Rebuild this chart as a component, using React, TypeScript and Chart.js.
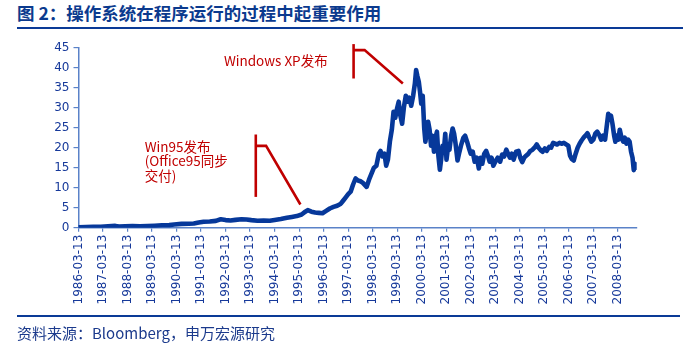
import React, { useEffect, useRef } from "react";
import { Chart, registerables } from "chart.js";

Chart.register(...registerables);

// ---- data ----
const titleText = "图 2：操作系统在程序运行的过程中起重要作用";
const sourceText = "资料来源：Bloomberg，申万宏源研究";

const tickLabels = [
  "1986-03-13", "1987-03-13", "1988-03-13", "1989-03-13", "1990-03-13", "1991-03-13",
  "1992-03-13", "1993-03-13", "1994-03-13", "1995-03-13", "1996-03-13", "1997-03-13",
  "1998-03-13", "1999-03-13", "2000-03-13", "2001-03-13", "2002-03-13", "2003-03-13",
  "2004-03-13", "2005-03-13", "2006-03-13", "2007-03-13", "2008-03-13",
];

// dates as fractional years
const dates = [
  1986.20, 1986.50, 1986.80, 1987.10, 1987.40, 1987.70, 1987.85, 1988.10, 1988.40, 1988.70,
  1989.00, 1989.30, 1989.60, 1989.90, 1990.10, 1990.40, 1990.70, 1990.90, 1991.10, 1991.30,
  1991.55, 1991.80, 1992.00, 1992.20, 1992.40, 1992.60, 1992.85, 1993.05, 1993.25, 1993.50,
  1993.75, 1994.00, 1994.20, 1994.45, 1994.70, 1994.90, 1995.10, 1995.30, 1995.45, 1995.55,
  1995.70, 1995.85, 1996.00, 1996.15, 1996.30, 1996.45, 1996.60, 1996.75, 1996.90, 1997.00,
  1997.10, 1997.20, 1997.30, 1997.40, 1997.50, 1997.60, 1997.70, 1997.80, 1997.95, 1998.05,
  1998.15, 1998.25, 1998.35, 1998.45, 1998.52, 1998.60, 1998.68, 1998.75, 1998.82, 1998.90,
  1998.98, 1999.05, 1999.12, 1999.20, 1999.26, 1999.33, 1999.40, 1999.47, 1999.55, 1999.62,
  1999.70, 1999.77, 1999.85, 1999.92, 1999.97, 2000.02, 2000.08, 2000.13, 2000.18, 2000.24,
  2000.30, 2000.35, 2000.40, 2000.46, 2000.52, 2000.58, 2000.64, 2000.70, 2000.76, 2000.82,
  2000.88, 2000.94, 2000.99, 2001.05, 2001.10, 2001.16, 2001.21, 2001.27, 2001.33, 2001.40,
  2001.46, 2001.52, 2001.58, 2001.66, 2001.72, 2001.80, 2001.90, 2001.97, 2002.05, 2002.12,
  2002.20, 2002.28, 2002.36, 2002.45, 2002.53, 2002.60, 2002.67, 2002.75, 2002.83, 2002.90,
  2002.97, 2003.05, 2003.12, 2003.20, 2003.30, 2003.40, 2003.48, 2003.56, 2003.65, 2003.72,
  2003.80, 2003.88, 2003.95, 2004.05, 2004.15, 2004.22, 2004.30, 2004.38, 2004.46, 2004.55,
  2004.63, 2004.72, 2004.80, 2004.89, 2004.97, 2005.05, 2005.13, 2005.22, 2005.30, 2005.40,
  2005.48, 2005.56, 2005.64, 2005.72, 2005.82, 2005.92, 2006.00, 2006.10, 2006.18, 2006.25,
  2006.32, 2006.40, 2006.48, 2006.56, 2006.64, 2006.72, 2006.80, 2006.88, 2006.96, 2007.04,
  2007.12, 2007.20, 2007.28, 2007.36, 2007.44, 2007.52, 2007.60, 2007.68, 2007.76, 2007.81,
  2007.86, 2007.92, 2007.98, 2008.05, 2008.10, 2008.16, 2008.22, 2008.28, 2008.35, 2008.42,
  2008.48, 2008.55, 2008.62, 2008.68, 2008.74, 2008.80, 2008.85, 2008.90, 2008.94, 2008.97,
];

const prices = [
  0.10, 0.15, 0.20, 0.25, 0.35, 0.45, 0.30, 0.35, 0.40, 0.38,
  0.42, 0.50, 0.60, 0.65, 0.80, 0.95, 1.00, 1.05, 1.30, 1.50,
  1.55, 1.70, 2.10, 1.90, 1.80, 1.95, 2.10, 2.05, 1.90, 1.75,
  1.80, 1.75, 1.95, 2.20, 2.50, 2.70, 2.90, 3.30, 4.00, 4.40,
  4.00, 3.80, 3.70, 3.60, 4.20, 4.80, 5.20, 5.50, 6.00, 6.80,
  7.60, 8.40, 9.00, 10.80, 12.30, 11.80, 11.60, 11.20, 10.20, 12.00,
  13.50, 15.00, 15.50, 18.50, 19.20, 17.80, 18.50, 15.50, 17.00, 21.50,
  24.50, 29.00, 27.50, 30.00, 31.50, 28.00, 26.00, 30.00, 33.00, 31.50,
  32.50, 30.50, 33.00, 36.00, 39.40, 38.00, 36.50, 34.00, 31.00, 33.00,
  25.00, 21.50, 24.00, 26.50, 24.50, 20.50, 23.00, 19.00, 22.50, 24.00,
  18.00, 14.50, 17.00, 20.50, 19.00, 23.50, 17.00, 20.00, 19.50, 23.00,
  24.80, 23.50, 21.00, 16.80, 18.50, 20.50, 22.50, 23.00, 21.50, 20.00,
  18.50, 19.00, 16.50, 17.50, 14.80, 17.50, 16.00, 18.50, 19.20, 18.00,
  16.50, 17.50, 15.50, 16.50, 17.50, 16.50, 18.30, 17.80, 19.50, 18.50,
  17.50, 18.50, 17.00, 19.00, 19.20, 17.50, 16.40, 17.50, 18.00, 18.50,
  19.20, 19.50, 20.00, 20.80, 20.00, 19.40, 19.00, 19.80, 19.20, 20.20,
  20.00, 21.20, 21.00, 20.80, 21.20, 21.00, 21.20, 20.80, 20.50, 18.00,
  17.20, 16.80, 18.50, 20.00, 21.00, 21.80, 22.50, 23.00, 23.60, 22.50,
  21.50, 22.00, 23.50, 24.00, 23.20, 22.00, 23.00, 22.00, 26.00, 28.50,
  27.00, 28.00, 26.00, 23.00, 21.50, 23.00, 22.00, 24.50, 22.50, 21.50,
  22.50, 21.00, 22.00, 21.50, 19.00, 17.50, 14.40, 16.00, 15.00, 15.60,
];

// annotation callouts, in data units (year, value)
const win95Bar = [[1993.43, 23.3], [1993.43, 7.7]];
const win95Leader = [[1993.43, 20.45], [1993.85, 20.45], [1995.25, 5.8]];
const xpBar = [[1997.42, 45.9], [1997.42, 37.3]];
const xpLeader = [[1997.42, 44.4], [1997.87, 44.4], [1999.43, 36.05]];
const win95Text = ["Win95发布", "(Office95同步", "交付)"];
const win95TextPos = [1988.9, [20.2, 16.6, 13.05]];
const xpText = "Windows XP发布";
const xpTextPos = [1992.13, 41.7];

// ---- styles ----
const LINE_BLUE = "#06389A";
const AXIS_BLUE = "#5A82C8";
const TICK_BLUE = "#16399A";
const RED = "#C00000";
const NUM_FONT = "'DejaVu Sans', 'Liberation Sans', sans-serif";
const CJK_FONT = "'Noto Sans CJK SC', 'Noto Sans', sans-serif";

const annotationPlugin = {
  id: "callouts",
  afterDatasetsDraw(chart: any) {
    const { ctx, scales } = chart;
    const sx = scales.x;
    const sy = scales.y;
    const px = (p: number[]) => [sx.getPixelForValue(p[0]), sy.getPixelForValue(p[1])];
    ctx.save();
    ctx.strokeStyle = RED;
    ctx.lineWidth = 2.6;
    ctx.lineCap = "butt";
    ctx.lineJoin = "miter";
    for (const path of [win95Bar, win95Leader, xpBar, xpLeader]) {
      ctx.beginPath();
      path.forEach((p, i) => {
        const [x, y] = px(p);
        if (i === 0) ctx.moveTo(x, y);
        else ctx.lineTo(x, y);
      });
      ctx.stroke();
    }
    ctx.fillStyle = RED;
    ctx.font = `13.5px ${CJK_FONT}`;
    ctx.textBaseline = "middle";
    ctx.textAlign = "left";
    const [xx, xy] = px(xpTextPos as number[]);
    ctx.fillText(xpText, xx, xy);
    const wx = sx.getPixelForValue(win95TextPos[0] as number);
    (win95TextPos[1] as number[]).forEach((v, i) => {
      ctx.fillText(win95Text[i], wx, sy.getPixelForValue(v));
    });
    ctx.restore();
  },
};

export default function App() {
  const ref = useRef<HTMLCanvasElement>(null);

  useEffect(() => {
    if (!ref.current) return;
    const tickValues = tickLabels.map((l) => {
      const yr = parseInt(l.slice(0, 4), 10);
      return yr + 72 / 365;
    });
    const chart = new Chart(ref.current, {
      type: "line",
      data: {
        datasets: [
          {
            data: dates.map((d, i) => ({ x: d, y: prices[i] })),
            borderColor: LINE_BLUE,
            borderWidth: 4.6,
            pointRadius: 0,
            tension: 0,
            borderJoinStyle: "round",
            borderCapStyle: "round",
            fill: false,
          },
        ],
      },
      options: {
        animation: false,
        responsive: false,
        devicePixelRatio: 1,
        layout: { padding: { top: 47.7, right: 62.3, bottom: 47.3, left: 0 } },
        plugins: { legend: { display: false }, tooltip: { enabled: false } },
        scales: {
          x: {
            type: "linear",
            min: tickValues[0],
            max: 2008.97,
            afterBuildTicks: (s: any) => {
              s.ticks = tickValues.map((v) => ({ value: v }));
            },
            afterFit: (s: any) => {
              s.height = 80;
            },
            ticks: {
              autoSkip: false,
              maxRotation: 90,
              minRotation: 90,
              padding: 3,
              color: TICK_BLUE,
              font: { family: NUM_FONT, size: 12 },
              callback: (_v: any, i: number) => tickLabels[i],
            },
            grid: {
              drawOnChartArea: false,
              drawTicks: true,
              tickLength: 4,
              color: AXIS_BLUE,
              lineWidth: 1.2,
            },
            border: { display: true, color: AXIS_BLUE, width: 1.5 },
          },
          y: {
            min: 0,
            max: 45,
            afterFit: (s: any) => {
              s.width = 78.5;
            },
            ticks: {
              stepSize: 5,
              padding: 4,
              color: TICK_BLUE,
              font: { family: NUM_FONT, size: 12 },
            },
            grid: {
              drawOnChartArea: false,
              drawTicks: true,
              tickLength: 5,
              color: AXIS_BLUE,
              lineWidth: 1.2,
            },
            border: { display: true, color: AXIS_BLUE, width: 1.5 },
          },
        },
      },
      plugins: [annotationPlugin],
    } as any);
    return () => chart.destroy();
  }, []);

  return (
    <div
      style={{
        position: "absolute",
        left: 0,
        top: 0,
        width: 699,
        height: 355,
        background: "#ffffff",
        overflow: "hidden",
      }}
    >
      <div
        style={{
          position: "absolute",
          left: 17,
          top: 2,
          fontFamily: CJK_FONT,
          fontWeight: 700,
          fontSize: 17.5,
          lineHeight: "22px",
          color: "#0B3A8E",
          whiteSpace: "nowrap",
        }}
      >
        {titleText}
      </div>
      <div
        style={{
          position: "absolute",
          left: 17,
          top: 27,
          width: 666,
          height: 2,
          background: "#0A3A96",
        }}
      />
      <canvas
        ref={ref}
        width={699}
        height={355}
        style={{ position: "absolute", left: 0, top: 0, width: 699, height: 355 }}
      />
      <div
        style={{
          position: "absolute",
          left: 17,
          top: 315,
          width: 663,
          height: 2,
          background: "#0A3A96",
        }}
      />
      <div
        style={{
          position: "absolute",
          left: 17,
          top: 324,
          fontFamily: CJK_FONT,
          fontSize: 15,
          lineHeight: "18px",
          color: "#1B3A8C",
          whiteSpace: "nowrap",
        }}
      >
        {sourceText}
      </div>
    </div>
  );
}
